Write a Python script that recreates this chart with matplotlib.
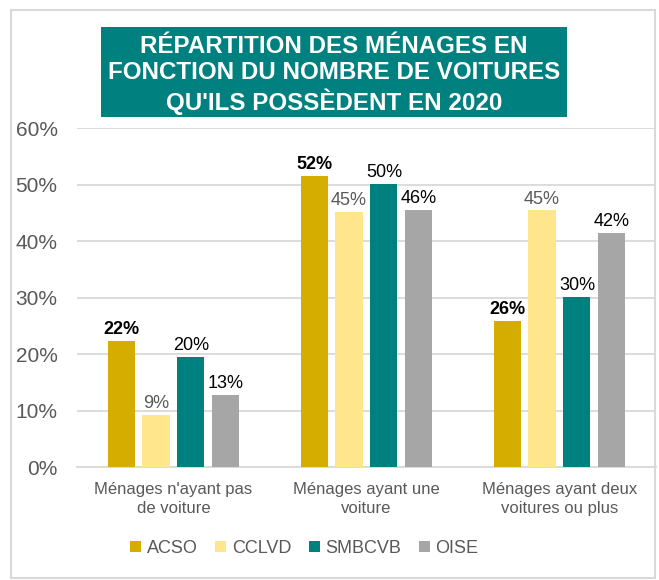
import numpy as np
import matplotlib.pyplot as plt
from matplotlib.patches import Rectangle

plt.rcParams['font.family'] = ['Liberation Sans', 'DejaVu Sans']

categories = ["Ménages n'ayant pas\nde voiture", "Ménages ayant une\nvoiture",
              "Ménages ayant deux\nvoitures ou plus"]
series = ["ACSO", "CCLVD", "SMBCVB", "OISE"]
acso = [22.3, 51.5, 25.8]
cclvd = [9.2, 45.2, 45.4]
smbcvb = [19.5, 50.1, 30.1]
oise = [12.7, 45.5, 41.5]
values = [acso, cclvd, smbcvb, oise]
colors = ["#D5AD00", "#FFE68C", "#00807E", "#A6A6A6"]
label_colors = ["#000000", "#595959", "#000000", "#000000"]
label_weights = ["bold", "normal", "normal", "normal"]

fig = plt.figure(figsize=(6.59, 5.80), dpi=100)
ax = fig.add_axes([0.1168, 0.1948, 0.8786, 0.5845])

x = np.arange(len(categories))
width = 0.14
step = 0.181
for i, vals in enumerate(values):
    pos = x + (i - 1.5) * step
    bars = ax.bar(pos, vals, width, color=colors[i], label=series[i], zorder=3)
    for b, v in zip(bars, vals):
        ax.annotate("%d%%" % round(v), (b.get_x() + b.get_width() / 2, v),
                    xytext=(0, 2), textcoords="offset points", ha="center", va="bottom",
                    fontsize=13, color=label_colors[i], fontweight=label_weights[i])

ax.set_ylim(0, 60)
ax.set_xlim(-0.5, 2.5)
ax.set_yticks(range(0, 61, 10))
ax.set_yticklabels(["%d%%" % t for t in range(0, 61, 10)])
ax.set_xticks(x)
ax.set_xticklabels(categories, linespacing=1.3)
ax.tick_params(axis="y", length=0, pad=14, labelsize=15, labelcolor="#595959")
ax.tick_params(axis="x", length=0, pad=11, labelsize=12, labelcolor="#595959")
ax.grid(axis="y", color="#D9D9D9", linewidth=1.3, zorder=0)
for s in ["left", "right", "top"]:
    ax.spines[s].set_visible(False)
ax.spines["bottom"].set_color("#D9D9D9")
ax.spines["bottom"].set_linewidth(1.3)

# outer border
fig.patches.append(Rectangle((11 / 659, 2 / 580), 644 / 659, 568 / 580, transform=fig.transFigure,
                             fill=False, edgecolor="#D9D9D9", linewidth=1.5))

# title box
fig.patches.append(Rectangle((0.1533, 0.7983), 0.7071, 0.1552, transform=fig.transFigure,
                             facecolor="#00807E", edgecolor="none", zorder=5))
fig.text(0.5068, 0.8707, "RÉPARTITION DES MÉNAGES EN\nFONCTION DU NOMBRE DE VOITURES\nQU'ILS POSSÈDENT EN 2020",
         ha="center", va="center", color="white", fontsize=17.4, fontweight="bold",
         linespacing=1.2, zorder=6)

leg = fig.legend(loc="center", bbox_to_anchor=(0.462, 0.055), ncol=4, frameon=False,
                 fontsize=13, handlelength=0.6, handleheight=0.6, handletextpad=0.3,
                 columnspacing=1.0)
for t in leg.get_texts():
    t.set_color("#595959")

fig.savefig("out.png", dpi=100)
